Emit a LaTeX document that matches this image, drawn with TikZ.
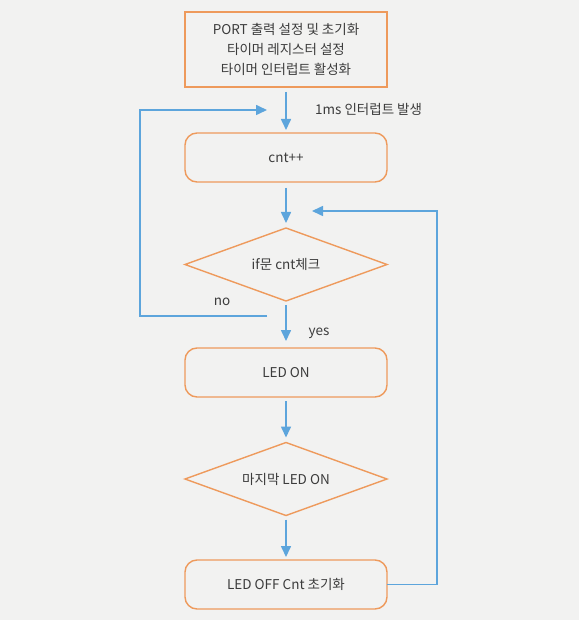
\documentclass[tikz,border=0pt]{standalone}
\usepackage{fontspec}
\setmainfont{Noto Sans CJK KR}
\usepackage{xcolor}
\usepackage{tikz}
\usetikzlibrary{positioning, shapes.geometric, arrows.meta, calc}
\definecolor{BgGry}  {HTML}{F2F2F1}
\definecolor{Orng}   {HTML}{EE9A5C}
\definecolor{FlowBlu}{HTML}{5DA5DC}
\definecolor{TxtGry} {HTML}{3C3C3C}

\tikzset{
  proc/.style={draw=Orng, line width=1.4pt, minimum width=202pt, inner sep=0pt,
               outer sep=0pt, align=center, text=TxtGry},
  procr/.style={proc, rounded corners=12pt, minimum height=49pt},
  decide/.style={draw=Orng, line width=1.4pt, diamond, shape aspect=2.77,
                 minimum width=202pt, minimum height=73pt, inner sep=0pt,
                 outer sep=0pt, text=TxtGry},
  flow/.style={draw=FlowBlu, line width=1.6pt, -{Triangle[length=11pt, width=10pt]}},
  lbl/.style={text=TxtGry, inner sep=0pt}
}

\begin{document}
\begin{tikzpicture}[x=1pt, y=-1pt, font=\fontsize{13.5}{20}\selectfont]
      % ── canvas ──────────────────────────────────────────────────────────────
      \fill[BgGry] (0,0) rectangle (579,620);
      \useasboundingbox (0,0) rectangle (579,620);

      % ── blocks ──────────────────────────────────────────────────────────────
      \node[proc, minimum height=75pt] (init) at (286,49.5)
        {PORT 출력 설정 및 초기화\\타이머 레지스터 설정\\타이머 인터럽트 활성화};
      \node[procr] (cnt) at (286,157.5) {cnt++};
      \node[decide] (chk) at (286,264.5) {if문 cnt체크};
      \node[procr] (ledon) at (286,372.5) {LED ON};
      \node[decide] (last) at (286,479) {마지막 LED ON};
      \node[procr] (ledoff) at (286,584.5) {LED OFF Cnt 초기화};

      % ── loop end points ─────────────────────────────────────────────────────
      \coordinate (noout) at (267,316);
      \coordinate (noin)  at (267,110);
      \coordinate (back)  at (312,211);

      % ── straight flow ───────────────────────────────────────────────────────
      \draw[flow, shorten <=5pt, shorten >=3pt] (init) -- (cnt);
      \draw[flow, shorten <=6pt, shorten >=5pt] (cnt) -- (chk);
      \draw[flow, shorten <=4pt, shorten >=7pt] (chk) -- (ledon);
      \draw[flow, shorten <=4pt, shorten >=5pt] (ledon) -- (last);
      \draw[flow, shorten <=4pt, shorten >=3pt] (last) -- (ledoff);

      % ── loops back ──────────────────────────────────────────────────────────
      % no: back to the interrupt
      \draw[flow] (noout) -- ++(-127,0) |- (noin);
      % after reset: back to the check
      \draw[flow] (ledoff.east) -- ++(50,0) |- (back);

      % ── labels ──────────────────────────────────────────────────────────────
      \node[lbl, anchor=west] (irq) at (315,109) {1ms 인터럽트 발생};
      \node[lbl] (no)  at (222,302) {no};
      \node[lbl] (yes) at (319,333) {yes};
    \end{tikzpicture}
\end{document}
